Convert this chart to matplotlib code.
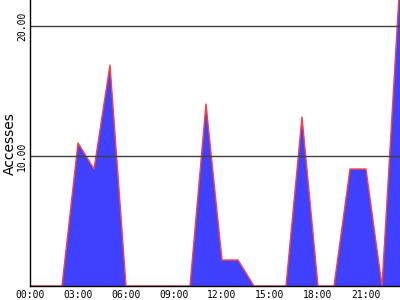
import matplotlib
matplotlib.use('Agg')
import matplotlib.pyplot as plt

# hourly access counts
hours = [0, 1, 2, 3, 4, 5, 6, 7, 8, 9, 10, 11, 12, 13, 14, 15, 16, 17, 18, 19, 20, 21, 22, 23, 24]
accesses = [0, 0, 0, 11, 9, 17, 0, 0, 0, 0, 0, 14, 2, 2, 0, 0, 0, 13, 0, 0, 9, 9, 0, 21, 42]
xticks = [0, 3, 6, 9, 12, 15, 18, 21]
xlabels = ['00:00', '03:00', '06:00', '09:00', '12:00', '15:00', '18:00', '21:00']
yticks = [10, 20]

fig = plt.figure(figsize=(4, 3), dpi=100)
ax = fig.add_axes([30 / 400, 14 / 300, 370 / 400, 286 / 300])

ax.fill_between(hours, accesses, color='#4040ff', lw=0, zorder=1)
ax.plot(hours, accesses, color='#ff4040', lw=1, zorder=2)
for v in yticks:
    ax.axhline(v, color='#404040', lw=1, zorder=3)

ax.set_xlim(0, 23.125)
ax.set_ylim(0, 22)
ax.set_xticks(xticks)
ax.set_xticklabels(xlabels, family='DejaVu Sans Mono', fontsize=7)
ax.set_yticks(yticks)
ax.set_yticklabels(['%.2f' % v for v in yticks], family='DejaVu Sans Mono',
                   fontsize=7, rotation=90, va='center')
ax.tick_params(length=0)
ax.tick_params(axis='x', pad=3)
ax.tick_params(axis='y', pad=2)

for s in ['top', 'right']:
    ax.spines[s].set_visible(False)
for s in ['left', 'bottom']:
    ax.spines[s].set_color('black')
    ax.spines[s].set_linewidth(1)
    ax.spines[s].set_zorder(4)

fig.text(10 / 400, 1 - 144 / 300, 'Accesses', rotation=90, ha='center', va='center', fontsize=10)

plt.savefig('out.png')
